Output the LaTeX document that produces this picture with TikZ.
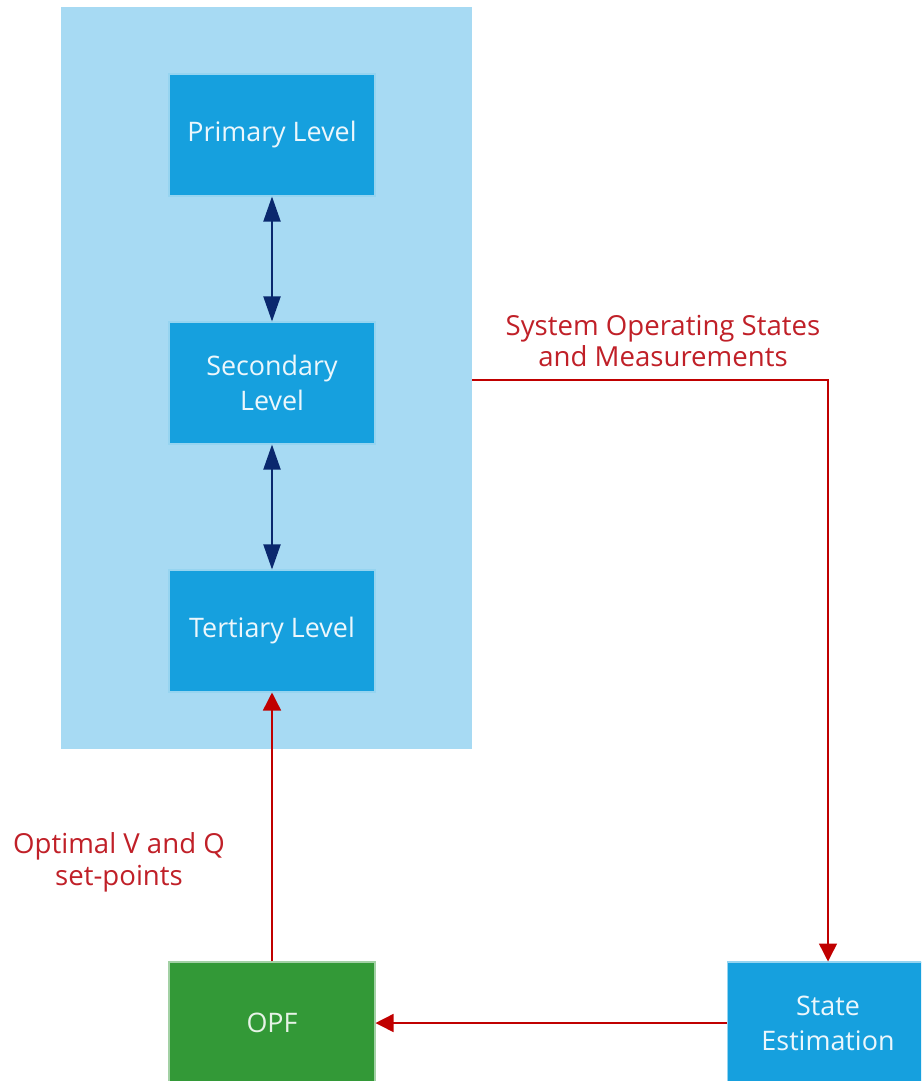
\documentclass[tikz,border=0pt]{standalone}
\usepackage{fontspec}
\setmainfont{Open Sans}
\usetikzlibrary{arrows.meta,positioning,calc}
\definecolor{panelblue}{RGB}{167,218,243}
\definecolor{boxblue}{RGB}{22,160,222}
\definecolor{opfgreen}{RGB}{51,153,55}
\definecolor{linkred}{RGB}{192,0,0}
\definecolor{textred}{RGB}{192,32,40}
\definecolor{navyline}{RGB}{10,40,110}
\tikzset{
  panelbox/.style={fill=panelblue,minimum width=8.22cm,minimum height=14.84cm,inner sep=0pt},
  levelbox/.style={draw=white!55!boxblue,line width=0.6pt,fill=boxblue,text=white!92!boxblue,
    align=center,minimum width=4.12cm,minimum height=2.44cm,inner sep=0pt,
    font=\fontsize{15.3}{20}\selectfont},
  opfbox/.style={levelbox,draw=white!55!opfgreen,fill=opfgreen,text=white!88!opfgreen},
  levelarrow/.style={{Triangle[length=5mm,width=3.4mm]}-{Triangle[length=5mm,width=3.4mm]},
    draw=navyline,line width=1.1pt},
  feedarrow/.style={-{Triangle[length=3.6mm,width=3.6mm]},draw=linkred,line width=0.85pt},
  feedlabel/.style={text=textred,align=center,font=\fontsize{15.7}{18.2}\selectfont}
}
\begin{document}
\begin{tikzpicture}[x=0.02cm,y=-0.02cm]
  \useasboundingbox (0,0) rectangle (921,1081);
  \clip (0,0) rectangle (921,1081);
  % control levels
  \node[panelbox] (panel) at (266.5,378) {};
  \node[levelbox] (primary) at (272,135) {Primary Level};
  \node[levelbox] (secondary) at (272,383) {Secondary\\Level};
  \node[levelbox] (tertiary) at (272,631) {Tertiary Level};
  % optimisation loop
  \node[opfbox] (opf) at (272,1023) {OPF};
  \node[levelbox,minimum width=4.04cm] (stateest) at (828,1023) {State\\Estimation};
  \draw[levelarrow] (primary) -- (secondary);
  \draw[levelarrow] (secondary) -- (tertiary);
  \draw[feedarrow] ($(secondary.east -| panel.east)+(0,-3)$) -| (stateest.north);
  \draw[feedarrow] (stateest) -- (opf);
  \draw[feedarrow] (opf) -- (tertiary);
  \node[feedlabel] (statelabel) at (663,341) {System Operating States\\and Measurements};
  \node[feedlabel] (setpointlabel) at (119,862) {Optimal V and Q\\set-points};
\end{tikzpicture}
\end{document}
